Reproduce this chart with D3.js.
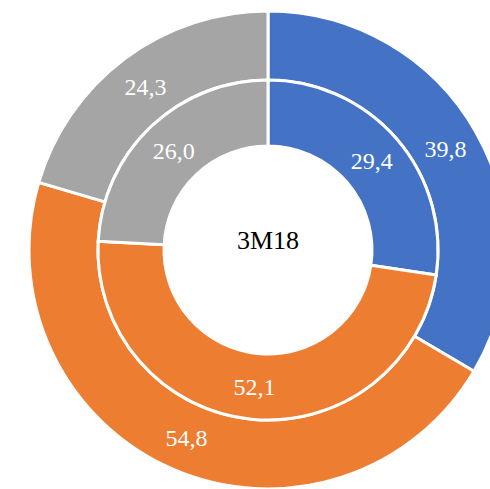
<!DOCTYPE html>
<html>
<head>
<meta charset="utf-8">
<script src="https://cdn.jsdelivr.net/npm/d3@7"></script>
<style>
  body { margin: 0; background: #fff; }
  text { font-family: "Liberation Serif", "Times New Roman", serif; }
</style>
</head>
<body>
<svg id="chart" width="490" height="489"></svg>
<script>
var categories = ['A', 'B', 'C'];
var outerValues = [39.8, 54.8, 24.3];
var innerValues = [29.4, 52.1, 26.0];
var colors = ['#4472C4', '#ED7D31', '#A5A5A5'];
var centerLabel = '3M18';

var svg = d3.select('#chart');
var cx = 268, cy = 250;
var rHole = 104, rMid = 170, rOut = 239;

var g = svg.append('g').attr('transform', 'translate(' + cx + ',' + cy + ')');

var pie = d3.pie().sort(null).value(function(d) { return d.value; });
var fmt = function(v) { return d3.format('.1f')(v).replace('.', ','); };

var addRing = function(values, r0, r1, cls) {
  var data = values.map(function(v, i) { return { name: categories[i], value: v, color: colors[i] }; });
  var arc = d3.arc().innerRadius(r0).outerRadius(r1);
  var arcs = pie(data);
  g.selectAll('.' + cls).data(arcs).enter().append('path')
    .attr('class', cls)
    .attr('d', arc)
    .attr('fill', function(d) { return d.data.color; })
    .attr('stroke', '#fff')
    .attr('stroke-width', 3);
  g.selectAll('.' + cls + '-label').data(arcs).enter().append('text')
    .attr('class', cls + '-label')
    .attr('transform', function(d) { return 'translate(' + arc.centroid(d) + ')'; })
    .attr('text-anchor', 'middle')
    .attr('dy', '0.35em')
    .attr('fill', '#fff')
    .attr('font-size', 24)
    .text(function(d) { return fmt(d.data.value); });
};

addRing(outerValues, rMid, rOut, 'outer');
addRing(innerValues, rHole, rMid, 'inner');

g.append('text')
  .attr('text-anchor', 'middle')
  .attr('dy', '0.35em')
  .attr('y', -10)
  .attr('font-size', 26)
  .attr('fill', '#000')
  .text(centerLabel);
</script>
</body>
</html>
